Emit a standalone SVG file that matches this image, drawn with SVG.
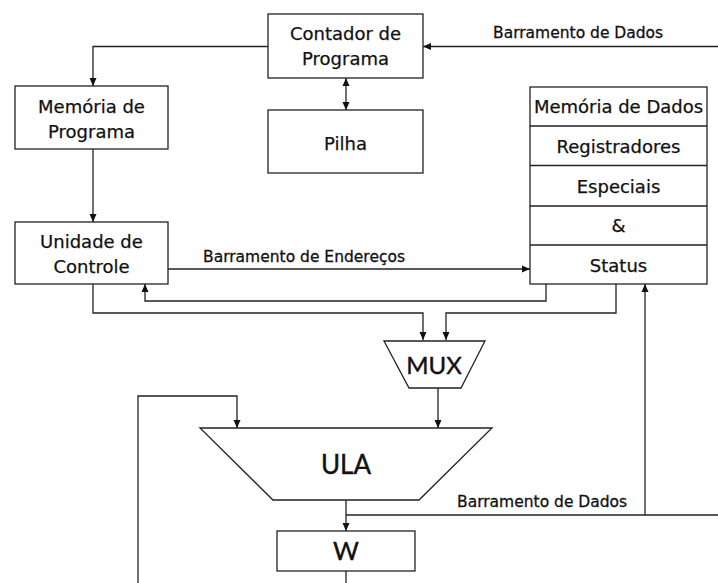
<svg xmlns="http://www.w3.org/2000/svg" width="718" height="583" viewBox="0 0 718 583">
<style>
.box{fill:#fff;stroke:#222;stroke-width:1.3}
.ln{fill:none;stroke:#222;stroke-width:1.3}
.t{font-family:"DejaVu Sans",Verdana,sans-serif;font-size:18px;fill:#111;stroke:#111;stroke-width:0.25;text-anchor:middle}
.s{font-family:"DejaVu Sans",Verdana,sans-serif;font-size:15.5px;fill:#111;stroke:#111;stroke-width:0.3}
.g{font-family:Lato,"Open Sans",sans-serif;fill:#111;stroke:#111;stroke-width:0.4;text-anchor:middle}
</style>
<defs>
<marker id="ah" markerUnits="userSpaceOnUse" viewBox="0 0 8 8" refX="8" refY="4" markerWidth="8" markerHeight="8" orient="auto-start-reverse">
<path d="M0,0.5 L8,4 L0,7.5 z" fill="#111"/>
</marker>
</defs>
<rect width="718" height="583" fill="#fff"/>
<g id="connectors">
<path class="ln" d="M268,46.5 H93 V86" marker-end="url(#ah)"/>
<path class="ln" d="M346,78 V110" marker-start="url(#ah)" marker-end="url(#ah)"/>
<path class="ln" d="M718,46.5 H423" marker-end="url(#ah)"/>
<path class="ln" d="M93,149 V222" marker-end="url(#ah)"/>
<path class="ln" d="M168,269 H530" marker-end="url(#ah)"/>
<path class="ln" d="M546,284 V301 H145 V284" marker-end="url(#ah)"/>
<path class="ln" d="M93,284 V313 H423 V340" marker-end="url(#ah)"/>
<path class="ln" d="M616,284 V313 H446 V340" marker-end="url(#ah)"/>
<path class="ln" d="M438,388 V428" marker-end="url(#ah)"/>
<path class="ln" d="M346,500 V531" marker-end="url(#ah)"/>
<path class="ln" d="M346,515 H718"/>
<path class="ln" d="M645,515 V284" marker-end="url(#ah)"/>
<path class="ln" d="M346,571 V583"/>
<path class="ln" d="M138,583 V396 H237 V428" marker-end="url(#ah)"/>
<text class="s" x="493" y="38">Barramento de Dados</text>
<text class="s" x="203" y="262">Barramento de Endereços</text>
<text class="s" x="457" y="507">Barramento de Dados</text>
</g>
<g id="contador">
<rect class="box" x="268" y="14" width="155" height="64"/>
<text class="t" x="345.5" y="40">Contador de</text>
<text class="t" x="345.5" y="65">Programa</text>
</g>
<g id="pilha">
<rect class="box" x="268" y="110" width="155" height="63"/>
<text class="t" x="345.5" y="150">Pilha</text>
</g>
<g id="memoria-programa">
<rect class="box" x="15" y="86" width="153" height="63"/>
<text class="t" x="91.5" y="113">Memória de</text>
<text class="t" x="91.5" y="137.5">Programa</text>
</g>
<g id="unidade-controle">
<rect class="box" x="15" y="222" width="153" height="62"/>
<text class="t" x="91.5" y="248">Unidade de</text>
<text class="t" x="91.5" y="273">Controle</text>
</g>
<g id="memoria-dados">
<rect class="box" x="530" y="87" width="177" height="197"/>
<path class="ln" d="M530,126 H707 M530,165.5 H707 M530,206 H707 M530,245 H707"/>
<text class="t" x="618.5" y="113">Memória de Dados</text>
<text class="t" x="618.5" y="153">Registradores</text>
<text class="t" x="618.5" y="193">Especiais</text>
<text class="t" x="618.5" y="232">&amp;</text>
<text class="t" x="618.5" y="271.5">Status</text>
</g>
<g id="mux">
<polygon class="box" points="384,341 485,341 461,388 409,388"/>
<text class="g" x="434" y="374" font-size="24">MUX</text>
</g>
<g id="ula">
<polygon class="box" points="200,428 492,428 419,500 273,500"/>
<text class="g" x="346" y="474" font-size="26">ULA</text>
</g>
<g id="w">
<rect class="box" x="277" y="531" width="138" height="40"/>
<text class="g" x="346" y="560" font-size="25">W</text>
</g>
</svg>
